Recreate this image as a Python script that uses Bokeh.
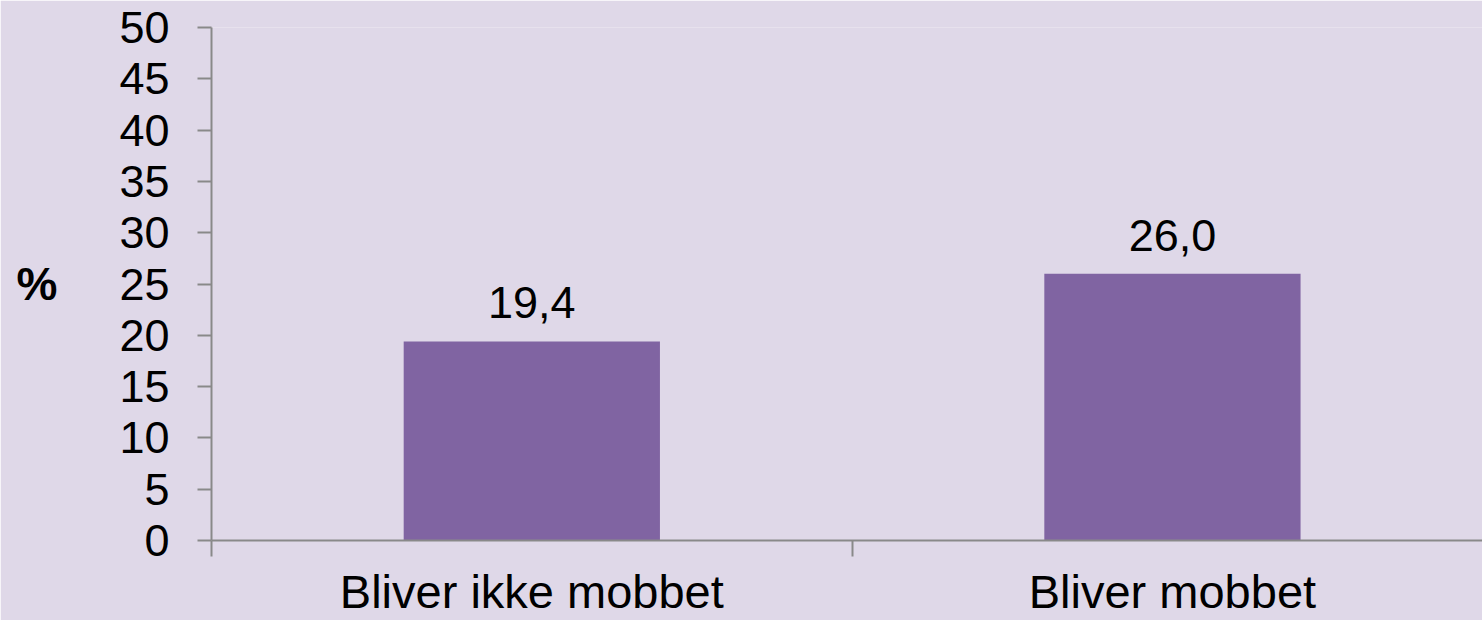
from bokeh.plotting import figure
from bokeh.models import ColumnDataSource, FixedTicker, Range1d
from bokeh.core.properties import value
from bokeh.embed import file_html
from bokeh.resources import INLINE

categories = ["Bliver ikke mobbet", "Bliver mobbet"]
values = [19.4, 26.0]
y_ticks = [0, 5, 10, 15, 20, 25, 30, 35, 40, 45, 50]

BG = "#DFD8E8"
BAR = "#8064A2"
AXIS = "#898989"
FONT = "Liberation Sans"

xs = [i + 0.5 for i in range(len(categories))]
labels = [f"{v:.1f}".replace(".", ",") for v in values]
src = ColumnDataSource(dict(x=xs, top=values, label=labels))

p = figure(width=1482, height=620, output_backend="svg", toolbar_location=None,
           x_range=Range1d(0, 1.984), y_range=Range1d(0, 50),
           min_border_left=211, min_border_top=27, min_border_bottom=40, min_border_right=0)
p.background_fill_color = BG
p.border_fill_color = BG
p.outline_line_color = None
p.xgrid.visible = False
p.ygrid.visible = False

p.vbar(x="x", top="top", width=0.4, bottom=0, source=src, fill_color=BAR, line_color=None)
p.text(x="x", y="top", text="label", source=src, text_align="center", text_baseline="bottom",
       y_offset=-23, text_font=value(FONT), text_font_size="45px", text_color="black")

# y axis
ya = p.yaxis[0]
ya.ticker = FixedTicker(ticks=y_ticks)
ya.axis_line_color = AXIS
ya.axis_line_width = 2
ya.major_tick_line_color = AXIS
ya.major_tick_line_width = 2
ya.major_tick_out = 14
ya.major_tick_in = 0
ya.minor_tick_line_color = None
ya.major_label_text_font = FONT
ya.major_label_text_font_size = "45px"
ya.major_label_text_color = "black"
ya.major_label_standoff = 28
ya.axis_label = "%"
ya.axis_label_orientation = "horizontal"
ya.axis_label_text_font = FONT
ya.axis_label_text_font_size = "46px"
ya.axis_label_text_font_style = "bold"
ya.axis_label_text_color = "black"
ya.axis_label_standoff = 59

# x axis
xa = p.xaxis[0]
xa.ticker = FixedTicker(ticks=xs, minor_ticks=[0, 1, 2])
xa.major_label_overrides = {x: c for x, c in zip(xs, categories)}
xa.axis_line_color = AXIS
xa.axis_line_width = 2
xa.major_tick_line_color = None
xa.major_tick_out = 0
xa.major_tick_in = 0
xa.minor_tick_line_color = AXIS
xa.minor_tick_line_width = 2
xa.minor_tick_out = 16
xa.minor_tick_in = 0
xa.major_label_text_font = FONT
xa.major_label_text_font_size = "47px"
xa.major_label_text_color = "black"
xa.major_label_standoff = 8

open("out.html", "w").write(file_html(p, INLINE))
